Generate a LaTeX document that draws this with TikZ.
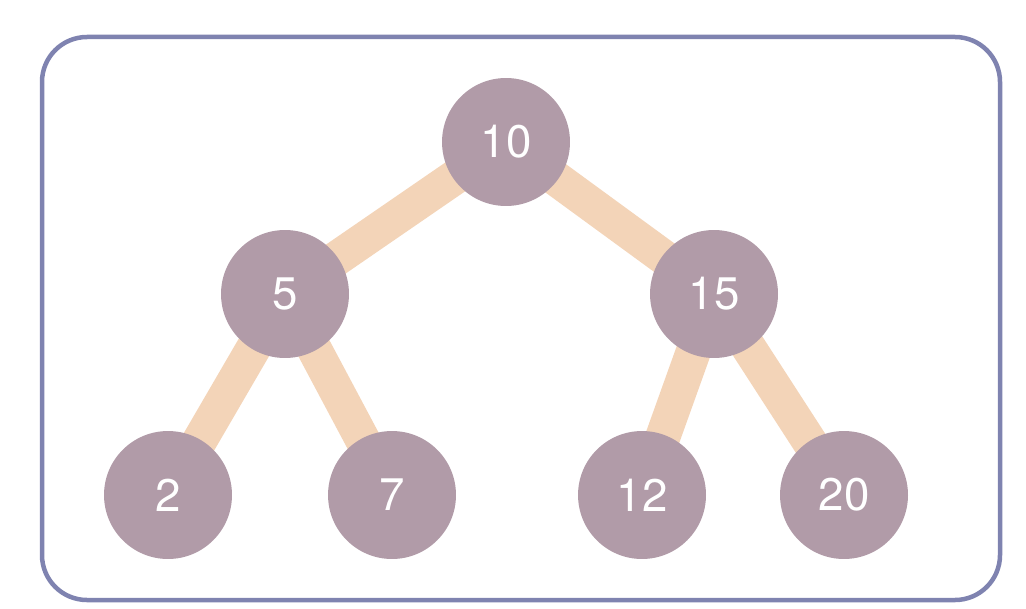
\documentclass[tikz,border=0pt]{standalone}
\usepackage{fontspec}
\setmainfont{TeX Gyre Heros}
\usetikzlibrary{backgrounds}
\definecolor{framecol}{HTML}{7F83B0}
\definecolor{nodecol}{HTML}{B19BA8}
\definecolor{edgecol}{HTML}{F3D4B8}

\begin{document}
\begin{tikzpicture}[x=0.02cm, y=-0.02cm,
    treenode/.style={circle, fill=nodecol, minimum size=2.56cm, inner sep=0pt,
      text=white, font=\fontsize{26}{30}\selectfont},
    treeedge/.style={edgecol, line width=0.7cm}]
  \useasboundingbox (0,0) rectangle (1026,608);
  % Frame
  \draw[framecol, line width=0.09cm, rounded corners=0.9cm] (42,37) rectangle (1000,600);
  % Nodes
  \node[treenode] (n10) at (506,142) {10};
  \node[treenode] (n5) at (285,294) {5};
  \node[treenode] (n15) at (714,294) {15};
  \node[treenode] (n2) at (168,495) {2};
  \node[treenode] (n7) at (392,495) {7};
  \node[treenode] (n12) at (642,495) {12};
  \node[treenode] (n20) at (844,495) {20};
  % Edges, behind the nodes
  \begin{scope}[on background layer]
    \draw[treeedge] (n10.center) -- (n5.center);
    \draw[treeedge] (n10.center) -- (n15.center);
    \draw[treeedge] (n5.center) -- (n2.center);
    \draw[treeedge] (n5.center) -- (n7.center);
    \draw[treeedge] (n15.center) -- (n12.center);
    \draw[treeedge] (n15.center) -- (n20.center);
  \end{scope}
\end{tikzpicture}
\end{document}
